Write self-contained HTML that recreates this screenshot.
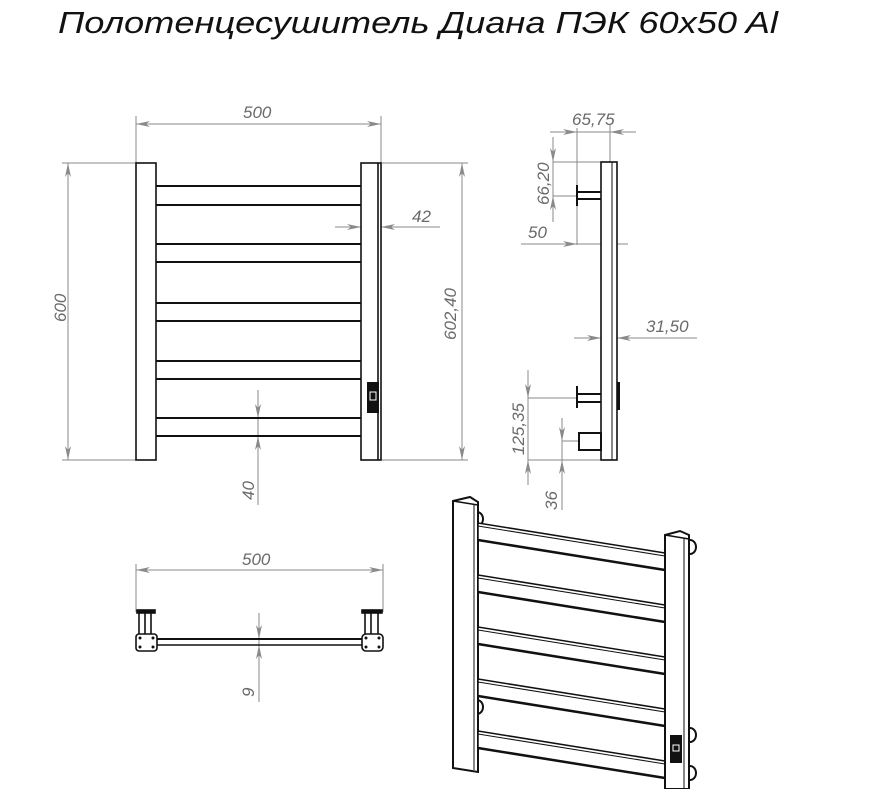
<!DOCTYPE html>
<html><head><meta charset="utf-8"><style>
html,body{margin:0;padding:0;background:#fff;}
svg{display:block;}
.d{stroke:#8a8a8a;stroke-width:1;fill:none;}
.t{font-family:"Liberation Sans",sans-serif;font-style:italic;font-size:17px;fill:#6a6a6a;}
.k{stroke:#111;fill:none;stroke-width:1.6;}
.kf{stroke:#111;fill:#fff;stroke-width:1.6;}
</style></head><body>
<svg width="872" height="789" viewBox="0 0 872 789" xmlns="http://www.w3.org/2000/svg">
<defs>
<marker id="a" markerWidth="14" markerHeight="6" refX="14" refY="3" orient="auto-start-reverse" markerUnits="userSpaceOnUse"><path d="M0,0 L14,3 L0,6 L4,3 Z" fill="#8a8a8a"/></marker>
</defs>
<text x="58" y="33" font-family="Liberation Sans,sans-serif" font-style="italic" font-size="31" fill="#111" textLength="720" lengthAdjust="spacingAndGlyphs">Полотенцесушитель Диана ПЭК 60x50 Al</text>

<!-- FRONT VIEW -->
<g class="d">
<line x1="136" y1="116" x2="136" y2="163"/><line x1="381" y1="116" x2="381" y2="163"/>
<line x1="136" y1="124" x2="381" y2="124" marker-start="url(#a)" marker-end="url(#a)"/>
<line x1="62" y1="163" x2="136" y2="163"/><line x1="62" y1="460" x2="136" y2="460"/>
<line x1="68" y1="163" x2="68" y2="460" marker-start="url(#a)" marker-end="url(#a)"/>
<line x1="381" y1="163" x2="468" y2="163"/><line x1="381" y1="460" x2="468" y2="460"/>
<line x1="462" y1="163" x2="462" y2="460" marker-start="url(#a)" marker-end="url(#a)"/>
<line x1="335" y1="227" x2="361" y2="227" marker-end="url(#a)"/>
<line x1="361" y1="227" x2="381" y2="227"/>
<line x1="440" y1="227" x2="381" y2="227" marker-end="url(#a)"/>
<line x1="258" y1="390" x2="258" y2="418" marker-end="url(#a)"/>
<line x1="258" y1="418" x2="258" y2="436"/>
<line x1="258" y1="505" x2="258" y2="436" marker-end="url(#a)"/>
</g>
<text class="t" x="243" y="118">500</text>
<text class="t" transform="translate(66,322) rotate(-90)">600</text>
<text class="t" transform="translate(456,340) rotate(-90)">602,40</text>
<text class="t" x="412" y="222">42</text>
<text class="t" transform="translate(254,500) rotate(-90)">40</text>

<rect class="kf" x="136" y="163" width="20" height="297"/>
<rect class="kf" x="361" y="163" width="20" height="297"/>
<line class="k" x1="378" y1="163" x2="378" y2="460" stroke-width="1"/>
<g stroke="#111" stroke-width="2">
<line x1="156" y1="186" x2="361" y2="186"/><line x1="156" y1="205" x2="361" y2="205"/>
<line x1="156" y1="244" x2="361" y2="244"/><line x1="156" y1="262" x2="361" y2="262"/>
<line x1="156" y1="303" x2="361" y2="303"/><line x1="156" y1="321" x2="361" y2="321"/>
<line x1="156" y1="361" x2="361" y2="361"/><line x1="156" y1="379" x2="361" y2="379"/>
<line x1="156" y1="418" x2="361" y2="418"/><line x1="156" y1="436" x2="361" y2="436"/>
</g>
<rect x="367" y="382" width="12" height="31" fill="#111"/>
<rect x="370" y="392" width="6" height="8" fill="none" stroke="#fff" stroke-width="1"/>

<!-- SIDE VIEW -->
<g class="d">
<line x1="550" y1="132" x2="577" y2="132" marker-end="url(#a)"/>
<line x1="577" y1="132" x2="610" y2="132"/>
<line x1="636" y1="132" x2="610" y2="132" marker-end="url(#a)"/>
<line x1="577" y1="128" x2="577" y2="245"/><line x1="610" y1="125" x2="610" y2="162"/>
<line x1="553" y1="137" x2="553" y2="162" marker-end="url(#a)"/>
<line x1="553" y1="162" x2="553" y2="196"/>
<line x1="553" y1="222" x2="553" y2="196" marker-end="url(#a)"/>
<line x1="553" y1="162" x2="601" y2="162"/><line x1="553" y1="196" x2="577" y2="196"/>
<line x1="521" y1="244" x2="577" y2="244" marker-end="url(#a)"/>
<line x1="577" y1="244" x2="628" y2="244"/>
<line x1="574" y1="338" x2="601" y2="338" marker-end="url(#a)"/>
<line x1="601" y1="338" x2="617" y2="338"/>
<line x1="697" y1="338" x2="617" y2="338" marker-end="url(#a)"/>
<line x1="528" y1="370" x2="528" y2="398" marker-end="url(#a)"/>
<line x1="528" y1="398" x2="528" y2="460"/>
<line x1="528" y1="485" x2="528" y2="460" marker-end="url(#a)"/>
<line x1="528" y1="398" x2="577" y2="398"/><line x1="528" y1="460" x2="601" y2="460"/>
<line x1="562" y1="418" x2="562" y2="441" marker-end="url(#a)"/>
<line x1="562" y1="441" x2="562" y2="460"/>
<line x1="562" y1="510" x2="562" y2="460" marker-end="url(#a)"/>
<line x1="562" y1="441" x2="601" y2="441"/>
</g>
<text class="t" x="572" y="125">65,75</text>
<text class="t" transform="translate(549,205) rotate(-90)">66,20</text>
<text class="t" x="528" y="238">50</text>
<text class="t" x="646" y="332">31,50</text>
<text class="t" transform="translate(524,455) rotate(-90)">125,35</text>
<text class="t" transform="translate(557,510) rotate(-90)">36</text>

<rect class="kf" x="601" y="162" width="16" height="298"/>
<line stroke="#111" stroke-width="1" x1="612" y1="162" x2="612" y2="460"/>
<g stroke="#111" stroke-width="2" fill="none">
<line x1="577" y1="192" x2="601" y2="192"/><line x1="577" y1="199" x2="601" y2="199"/>
<line x1="577" y1="185" x2="577" y2="206"/>
<line x1="577" y1="394" x2="601" y2="394"/><line x1="577" y1="402" x2="601" y2="402"/>
<line x1="577" y1="386" x2="577" y2="408"/>
<rect x="579" y="433" width="22" height="17" fill="#fff"/>
</g>
<rect x="617" y="382" width="3" height="28" fill="#111"/>

<!-- TOP VIEW -->
<g class="d">
<line x1="136" y1="564" x2="136" y2="612"/><line x1="383" y1="564" x2="383" y2="612"/>
<line x1="136" y1="570" x2="383" y2="570" marker-start="url(#a)" marker-end="url(#a)"/>
<line x1="259" y1="613" x2="259" y2="639" marker-end="url(#a)"/>
<line x1="259" y1="639" x2="259" y2="645"/>
<line x1="259" y1="702" x2="259" y2="645" marker-end="url(#a)"/>
</g>
<text class="t" x="242" y="565">500</text>
<text class="t" transform="translate(254,697) rotate(-90)">9</text>
<g stroke="#111" stroke-width="1.6" fill="#fff">
<line x1="157" y1="639" x2="362" y2="639" stroke-width="2"/>
<line x1="157" y1="645" x2="362" y2="645"/>
<rect x="137" y="610" width="18" height="3" fill="#111"/>
<line x1="139" y1="613" x2="139" y2="634"/><line x1="145" y1="613" x2="145" y2="634"/><line x1="151" y1="613" x2="151" y2="634"/>
<rect x="136" y="634" width="21" height="17" rx="3"/>
<rect x="362" y="610" width="20" height="3" fill="#111"/>
<line x1="365" y1="613" x2="365" y2="634"/><line x1="371" y1="613" x2="371" y2="634"/><line x1="378" y1="613" x2="378" y2="634"/>
<rect x="362" y="634" width="21" height="17" rx="4"/>
</g>
<g fill="#111"><circle cx="140" cy="638" r="1.5"/><circle cx="153" cy="638" r="1.5"/><circle cx="140" cy="647" r="1.5"/><circle cx="153" cy="647" r="1.5"/>
<circle cx="366" cy="638" r="1.5"/><circle cx="379" cy="638" r="1.5"/><circle cx="366" cy="647" r="1.5"/><circle cx="379" cy="647" r="1.5"/></g>

<!-- ISOMETRIC -->
<g stroke="#111" stroke-width="2" fill="#fff">
<path d="M477,512 a6,7 0 1,1 0,14" /><path d="M477,700 a6,7 0 1,1 0,14"/>
<path d="M690,540 a6,7 0 1,1 0,14"/><path d="M690,728 a6,7 0 1,1 0,14"/><path d="M690,766 a6,7 0 1,1 0,14"/>
<polygon points="453,501 470,497 478,502 478,772 453,768"/>
<line x1="453" y1="501" x2="478" y2="505" stroke-width="1.5"/>
<line x1="474" y1="505" x2="474" y2="770" stroke-width="1"/>
</g>
<g stroke="#111" fill="#fff">
<polygon points="478,523 665,553 665,570 478,540" stroke-width="1.5"/><line x1="478" y1="540" x2="665" y2="570" stroke-width="2.5"/><line x1="478" y1="526" x2="665" y2="556" stroke-width="1"/>
<polygon points="478,575 665,605 665,622 478,592" stroke-width="1.5"/><line x1="478" y1="592" x2="665" y2="622" stroke-width="2.5"/><line x1="478" y1="578" x2="665" y2="608" stroke-width="1"/>
<polygon points="478,627 665,657 665,674 478,644" stroke-width="1.5"/><line x1="478" y1="644" x2="665" y2="674" stroke-width="2.5"/><line x1="478" y1="630" x2="665" y2="660" stroke-width="1"/>
<polygon points="478,679 665,709 665,726 478,696" stroke-width="1.5"/><line x1="478" y1="696" x2="665" y2="726" stroke-width="2.5"/><line x1="478" y1="682" x2="665" y2="712" stroke-width="1"/>
<polygon points="478,731 665,761 665,778 478,748" stroke-width="1.5"/><line x1="478" y1="748" x2="665" y2="778" stroke-width="2.5"/><line x1="478" y1="734" x2="665" y2="764" stroke-width="1"/>
</g>
<g stroke="#111" stroke-width="2" fill="#fff">
<polygon points="665,535 680,531 689,535 689,789 665,789"/>
<line x1="665" y1="535" x2="689" y2="539" stroke-width="1.5"/>
<line x1="684" y1="539" x2="684" y2="789" stroke-width="1"/>
</g>
<rect x="670" y="735" width="12" height="28" fill="#111"/>
<rect x="673" y="745" width="6" height="6" fill="none" stroke="#fff" stroke-width="1"/>
</svg>
</body></html>
